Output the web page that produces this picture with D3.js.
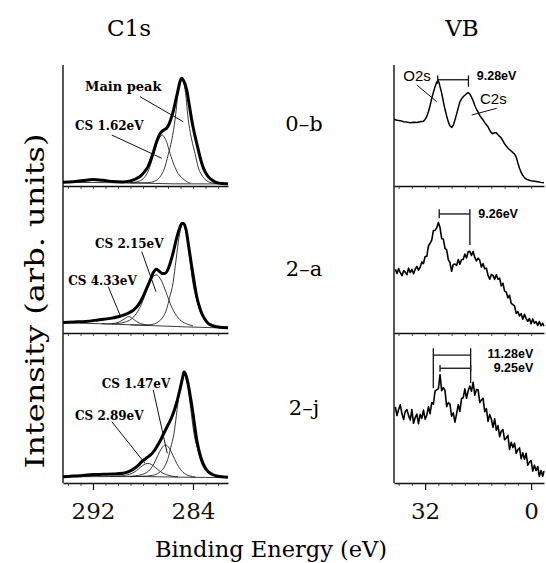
<!DOCTYPE html>
<html>
<head>
<meta charset="utf-8">
<script src="https://cdn.jsdelivr.net/npm/d3@7/dist/d3.min.js"></script>
<style>
  body { margin: 0; background: #fff; }
  svg { display: block; }
</style>
</head>
<body>
<svg id="chart" width="546" height="563"></svg>
<script>
// values are [binding energy (eV), intensity (arb. units, 0-100 of panel height)]
const sampleNames = ["0–b", "2–a", "2–j"];
const c1sTickLabels = [292, 284];
const vbTickLabels = [32, 0];

// ---- C1s, sample 0-b ----
const c1sBg0b = [[294.4, 3.0], [291, 2.8], [288.5, 2.5], [287, 2.1], [285.5, 1.8], [281.2, 1.7]];
const c1sEnv0b = [[294.4, 3.2], [293.6, 3.6], [292.8, 4.5], [292.0, 5.3], [291.2, 4.7], [290.4, 3.7], [289.6, 3.4],
  [289.0, 4.2], [288.6, 5.8], [288.2, 8.2], [287.9, 11.5], [287.6, 16], [287.4, 21], [287.2, 27], [286.9, 37],
  [286.7, 42], [286.5, 45], [286.3, 46.5], [286.1, 48], [285.9, 51.5], [285.7, 57.5], [285.55, 63], [285.4, 70],
  [285.2, 79], [285.05, 86], [284.9, 89], [284.75, 87], [284.5, 79.3], [284.3, 67], [284.1, 54.5], [283.9, 44],
  [283.7, 35.3], [283.5, 26.5], [283.3, 18.8], [283.05, 12], [282.78, 7.7], [282.4, 4.3], [282.1, 2.8],
  [281.6, 2.0], [281.2, 1.8]];
const c1sMain0b = [[289.0, 2.4], [288.0, 2.6], [287.3, 3.2], [286.9, 5], [286.6, 8], [286.3, 14], [285.98, 26],
  [285.7, 38], [285.42, 56], [285.2, 77], [285.05, 86], [284.9, 89], [284.75, 86], [284.6, 77], [284.38, 55],
  [284.1, 38], [283.84, 27], [283.6, 16], [283.3, 9], [283.0, 5.2], [282.78, 3.6], [282.3, 2.3], [281.2, 1.8]];
const c1sCs162 = [[289.3, 2.6], [288.8, 2.9], [288.3, 4], [287.9, 7], [287.6, 12], [287.35, 19], [287.1, 28],
  [286.85, 36], [286.6, 41], [286.45, 42], [286.3, 40.5], [286.1, 36], [285.84, 27], [285.5, 17], [285.2, 10.5],
  [284.85, 6.5], [284.5, 3.6], [284.2, 2.3]];

// ---- C1s, sample 2-a ----
const c1sBg2a = [[294.4, 7.2], [290, 6.0], [287, 5.0], [284.5, 4.2], [282.5, 3.7], [281.2, 3.6]];
const c1sEnv2a = [[294.4, 7.2], [293.5, 7.6], [292.6, 8.0], [291.6, 9.0], [290.6, 10.1], [289.9, 11.4], [289.3, 13.2],
  [288.8, 15.5], [288.4, 19], [288.0, 25], [287.7, 31], [287.4, 37], [287.15, 42], [286.95, 44], [286.75, 43],
  [286.5, 41.2], [286.25, 41], [286.05, 43], [285.85, 47.5], [285.6, 55], [285.35, 64], [285.1, 71.5],
  [284.9, 75.5], [284.75, 75.6], [284.55, 71], [284.35, 60], [284.1, 45.7], [283.9, 35], [283.7, 25],
  [283.5, 18.5], [283.3, 13.6], [283.05, 9.5], [282.8, 6.7], [282.4, 4.9], [282.1, 4.3], [281.6, 3.8], [281.2, 3.7]];
const c1sMain2a = [[289.0, 5.6], [288.0, 5.4], [287.3, 5.9], [286.8, 7.6], [286.4, 11.1], [286.1, 16.8], [285.87, 24.5],
  [285.6, 34.4], [285.35, 50.8], [285.1, 67], [284.8, 75.6], [284.5, 66.8], [284.25, 50.5], [284.0, 34.1],
  [283.73, 24.2], [283.5, 16.4], [283.2, 10.7], [282.8, 7.1], [282.3, 5.4], [282.0, 4.0]];
const c1sCs215 = [[290.5, 6.2], [289.95, 6.6], [289.45, 7.5], [288.95, 9.5], [288.55, 13.2], [288.15, 19.4],
  [287.75, 28.4], [287.35, 36.7], [286.95, 40.1], [286.55, 36.5], [286.15, 28], [285.75, 18.7], [285.35, 12.3],
  [284.95, 8.4], [284.45, 6.1], [284.0, 4.9]];
const c1sCs433 = [[291.3, 6.4], [290.8, 6.3], [290.3, 6.6], [289.9, 7.7], [289.5, 9.7], [289.13, 11.3], [288.75, 9.4],
  [288.4, 7.3], [288.0, 6.0], [287.6, 5.4]];

// ---- C1s, sample 2-j ----
const c1sBg2j = [[294.4, 4.2], [290, 4.3], [288, 4.3], [286.5, 4.1], [285, 3.9], [283, 3.7], [281.2, 3.7]];
const c1sEnv2j = [[294.4, 4.2], [293.6, 4.6], [292.8, 5.0], [292.0, 5.6], [291.2, 5.8], [290.4, 6.0], [289.6, 6.5],
  [289.1, 7.8], [288.8, 9.1], [288.4, 11.6], [288.1, 14.2], [287.7, 16.8], [287.4, 18.7], [287.1, 21.5],
  [286.9, 24.2], [286.6, 28.5], [286.4, 32], [286.1, 37], [285.8, 42], [285.6, 46], [285.4, 51], [285.2, 57],
  [285.0, 64], [284.85, 69.5], [284.72, 74], [284.55, 71.5], [284.4, 66.4], [284.2, 57], [284.0, 46.4],
  [283.85, 37], [283.7, 28.7], [283.5, 21], [283.3, 15.3], [283.05, 10.5], [282.8, 7.6], [282.4, 5.5],
  [282.1, 4.7], [281.7, 4.1], [281.2, 3.8]];
const c1sMain2j = [[289.0, 4.3], [288.0, 4.5], [287.22, 5.1], [286.72, 6.9], [286.32, 10.3], [286.02, 15.8],
  [285.79, 23.4], [285.52, 33.1], [285.27, 49], [285.02, 64.8], [284.72, 73], [284.42, 64.6], [284.17, 48.8],
  [283.92, 32.9], [283.65, 23.2], [283.42, 15.6], [283.12, 10.1], [282.72, 6.7], [282.22, 4.9], [281.2, 3.8]];
const c1sCs147 = [[289.2, 4.4], [288.6, 4.8], [288.1, 5.6], [287.7, 7.0], [287.4, 9.3], [287.1, 13.3], [286.8, 18.6],
  [286.5, 23.3], [286.19, 25.4], [285.9, 23.2], [285.6, 18.3], [285.3, 13.0], [285.0, 9.0], [284.7, 6.5],
  [284.3, 4.8], [283.8, 4.0]];
const c1sCs289 = [[290.6, 4.4], [290.0, 4.6], [289.5, 5.0], [289.1, 5.8], [288.8, 6.8], [288.5, 8.4], [288.2, 10.5],
  [287.9, 12.3], [287.61, 13.1], [287.3, 12.2], [287.0, 10.3], [286.7, 8.2], [286.4, 6.5], [286.1, 5.5],
  [285.7, 4.6], [285.2, 4.1]];

// ---- valence band spectra ----
const vb0b = [[41.4, 55.2], [40.5, 54.3], [39.5, 54.0], [38.5, 53.1], [37.5, 52.8], [36.5, 52.2], [35.5, 52.7],
  [34.5, 52.4], [33.5, 53.1], [32.5, 53.6], [32.0, 55.0], [31.5, 57.5], [31.0, 61.4], [30.5, 66.5], [30.0, 72.5],
  [29.5, 77.4], [29.0, 82.1], [28.6, 85.2], [28.2, 87.2], [27.8, 85.6], [27.5, 82.1], [27.0, 76.8], [26.5, 69.7],
  [26.0, 63.4], [25.5, 57.9], [25.0, 53.0], [24.5, 49.6], [24.0, 48.4], [23.5, 50.1], [23.0, 54.5], [22.5, 59.4],
  [22.0, 64.6], [21.5, 69.5], [21.0, 72.0], [20.5, 73.8], [20.0, 75.0], [19.5, 76.3], [19.0, 77.2], [18.5, 76.0],
  [18.0, 73.5], [17.5, 70.4], [17.0, 66.5], [16.5, 63.4], [16.0, 61.0], [15.5, 58.3], [15.0, 56.4], [14.5, 54.6],
  [14.0, 52.4], [13.5, 50.6], [13.0, 48.9], [12.5, 46.2], [12.0, 44.0], [11.5, 43.2], [11.0, 44.1], [10.5, 44.0],
  [10.0, 42.3], [9.5, 41.0], [9.0, 39.6], [8.5, 37.2], [8.0, 34.9], [7.5, 33.0], [7.0, 31.4], [6.5, 30.0],
  [6.0, 28.9], [5.5, 27.6], [5.0, 26.4], [4.5, 24.0], [4.0, 19.1], [3.5, 14.6], [3.0, 11.2], [2.5, 8.6],
  [2.0, 6.9], [1.5, 5.8], [1.0, 5.1], [0.0, 4.4], [-1.0, 4.0], [-2.0, 3.6], [-3.0, 3.0], [-3.9, 2.6]];
const vb2a = [[41.0, 43.9], [40.5, 41.1], [40.0, 44.5], [39.5, 41.6], [39.0, 39.5], [38.5, 43.0], [38.0, 42.0],
  [37.5, 40.2], [37.0, 44.7], [36.5, 41.7], [36.0, 43.9], [35.5, 40.8], [35.0, 44.0], [34.5, 45.9], [34.0, 43.4],
  [33.5, 45.4], [33.0, 48.9], [32.5, 47.9], [32.0, 52.8], [31.5, 52.8], [31.0, 60.0], [30.5, 61.9], [30.0, 64.0],
  [29.5, 70.7], [29.0, 70.8], [28.5, 72.6], [28.0, 76.2], [27.5, 72.7], [27.0, 65.0], [26.5, 64.8], [26.0, 58.3],
  [25.5, 57.4], [25.0, 50.6], [24.5, 48.5], [24.0, 42.6], [23.5, 47.3], [23.0, 47.6], [22.5, 46.6], [22.0, 50.6],
  [21.5, 47.5], [21.0, 50.7], [20.5, 50.7], [20.0, 54.5], [19.5, 51.7], [19.0, 56.0], [18.5, 56.3], [18.0, 53.5],
  [17.5, 56.2], [17.0, 52.1], [16.5, 49.7], [16.0, 51.6], [15.5, 50.1], [15.0, 45.5], [14.5, 47.8], [14.0, 44.3],
  [13.5, 44.7], [13.0, 39.7], [12.5, 37.1], [12.0, 40.4], [11.5, 39.7], [11.0, 37.0], [10.5, 40.2], [10.0, 37.1],
  [9.5, 37.8], [9.0, 32.4], [8.5, 34.3], [8.0, 28.9], [7.5, 28.3], [7.0, 24.2], [6.5, 26.0], [6.0, 20.4],
  [5.5, 19.6], [5.0, 18.7], [4.5, 13.5], [4.0, 14.8], [3.5, 11.8], [3.0, 13.3], [2.5, 9.5], [2.0, 12.9],
  [1.5, 9.9], [1.0, 8.1], [0.5, 10.0], [0.0, 6.3], [-0.5, 9.7], [-1.0, 6.7], [-1.5, 7.8], [-2.0, 5.3],
  [-2.5, 7.9], [-3.0, 5.0], [-3.5, 6.7], [-3.9, 4.8]];
const vb2j = [[41.0, 50.8], [40.5, 45.0], [40.0, 49.0], [39.5, 52.1], [39.0, 46.1], [38.5, 42.4], [38.0, 47.7],
  [37.5, 49.0], [37.0, 44.9], [36.5, 42.0], [36.0, 48.9], [35.5, 39.8], [35.0, 43.6], [34.5, 46.0], [34.0, 39.6],
  [33.5, 45.8], [33.0, 43.1], [32.5, 48.6], [32.0, 42.6], [31.5, 45.2], [31.0, 50.8], [30.5, 46.2], [30.0, 53.7],
  [29.5, 52.5], [29.0, 61.4], [28.5, 62.1], [28.0, 62.8], [27.5, 72.2], [27.0, 61.5], [26.5, 63.6], [26.0, 61.7],
  [25.5, 50.9], [25.0, 53.6], [24.5, 52.6], [24.0, 44.5], [23.5, 46.7], [23.0, 40.6], [22.5, 46.1], [22.0, 52.3],
  [21.5, 47.7], [21.0, 56.3], [20.5, 56.8], [20.0, 62.8], [19.5, 56.5], [19.0, 61.5], [18.5, 64.7], [18.0, 61.2],
  [17.5, 67.2], [17.0, 58.6], [16.5, 62.4], [16.0, 62.1], [15.5, 53.7], [15.0, 55.4], [14.5, 56.4], [14.0, 47.6],
  [13.5, 49.6], [13.0, 41.1], [12.5, 45.6], [12.0, 42.5], [11.5, 37.1], [11.0, 42.8], [10.5, 35.2], [10.0, 38.3],
  [9.5, 30.9], [9.0, 34.6], [8.5, 35.6], [8.0, 28.8], [7.5, 30.0], [7.0, 31.8], [6.5, 22.4], [6.0, 27.1],
  [5.5, 23.6], [5.0, 26.7], [4.5, 19.7], [4.0, 22.1], [3.5, 23.4], [3.0, 16.2], [2.5, 20.1], [2.0, 15.8],
  [1.5, 19.8], [1.0, 11.9], [0.5, 13.9], [0.0, 15.0], [-0.5, 7.9], [-1.0, 11.9], [-1.5, 8.4], [-2.0, 11.0],
  [-2.5, 4.4], [-3.0, 8.3], [-3.5, 4.5], [-3.9, 8.0]];

// ---- annotations: panel index, text, anchor [eV, intensity] ----
const c1sLabels = [
  { panel: 0, text: "Main peak", at: [292.64, 78.5], from: [288.24, 73.8], to: [284.78, 53.1] },
  { panel: 0, text: "CS 1.62eV", at: [293.44, 46.3], from: [290.5, 42.1], to: [286.5, 22.9] },
  { panel: 1, text: "CS 2.15eV", at: [291.84, 58.6], from: [288.1, 56.1], to: [286.96, 28.5] },
  { panel: 1, text: "CS 4.33eV", at: [293.98, 33.1], from: [290.78, 31.9], to: [289.84, 12.4] },
  { panel: 2, text: "CS 1.47eV", at: [291.3, 63.3], from: [287.18, 62], to: [286.06, 19.8] },
  { panel: 2, text: "CS 2.89eV", at: [293.44, 42], from: [290.5, 40.9], to: [287.84, 13.1] }
];
const vbPeakLabels = [
  { panel: 0, text: "O2s", at: [38.6, 86.8], from: [34.54, 83.5], to: [28.5, 69.7] },
  { panel: 0, text: "C2s", at: [15.43, 67.4], from: [10.4, 64.2], to: [17.93, 58.7] }
];
// brackets: left/right peak energy, bar height, end of the left and right drops
const vbBrackets = [
  { panel: 0, left: 28.2, right: 18.92, bar: 87.8, leftEnd: 84.5, rightEnd: 82.0, top: 91.3, text: "9.28eV", textAt: [16.4, 87.8], anchor: "start" },
  { panel: 1, left: 27.75, right: 18.49, bar: 82.1, leftEnd: 79.1, rightEnd: 60.7, top: 85.3, text: "9.26eV", textAt: [15.94, 79.3], anchor: "start" },
  { panel: 2, left: 29.53, right: 18.25, bar: 85.3, leftEnd: 63.1, rightEnd: 66.5, top: 89.8, text: "11.28eV", textAt: [-0.67, 83.3], anchor: "end" },
  { panel: 2, left: 27.5, right: 18.25, bar: 76.5, leftEnd: 74.2, rightEnd: 74.2, top: 78.7, text: "9.25eV", textAt: [-0.67, 74.3], anchor: "end" }
];

const c1sPanels = [
  { bg: c1sBg0b, env: c1sEnv0b, comps: [c1sMain0b, c1sCs162] },
  { bg: c1sBg2a, env: c1sEnv2a, comps: [c1sMain2a, c1sCs215, c1sCs433] },
  { bg: c1sBg2j, env: c1sEnv2j, comps: [c1sMain2j, c1sCs147, c1sCs289] }
];
const vbSpectra = [vb0b, vb2a, vb2j];

// ---- layout ----
const svg = d3.select("#chart");
const panels = [{ top: 65, bottom: 186 }, { top: 188, bottom: 333 }, { top: 333, bottom: 483 }];
const yScales = panels.map(p => d3.scaleLinear().domain([0, 100]).range([p.bottom, p.top]));
const c1sX = d3.scaleLinear().domain([294.4, 281.2]).range([63, 228]);
const vbX = d3.scaleLinear().domain([41.4, -3.9]).range([394, 544]);
const serif = "'DejaVu Serif', serif";
const sans = "'Liberation Sans', Arial, sans-serif";

function sorted(points, x) {
    return points.slice().sort((a, b) => x(a[0]) - x(b[0]));
}

function drawFrame(x, minorTicks) {
    const left = x.range()[0];
    svg.append("line")
        .attr("x1", left).attr("x2", left)
        .attr("y1", panels[0].top).attr("y2", panels[2].bottom)
        .attr("stroke", "#111").attr("stroke-width", 1.4);

    panels.forEach(p => {
        svg.append("g")
            .attr("transform", `translate(0, ${p.bottom})`)
            .call(d3.axisBottom(x).tickValues(minorTicks).tickSize(3).tickSizeOuter(0).tickFormat(""))
            .call(g => g.select(".domain").attr("stroke", "#111").attr("stroke-width", 1.6))
            .call(g => g.selectAll(".tick line").attr("stroke", "#222").attr("stroke-width", 0.8));
    });
}

function drawTickLabels(x, values) {
    svg.append("g")
        .attr("transform", `translate(0, ${panels[2].bottom})`)
        .call(d3.axisBottom(x).tickValues(values).tickSize(7).tickSizeOuter(0).tickPadding(13))
        .call(g => g.select(".domain").remove())
        .call(g => g.selectAll(".tick line").attr("stroke", "#111").attr("stroke-width", 1.2))
        .call(g => g.selectAll(".tick text").attr("fill", "#111")
            .attr("font-family", serif).attr("font-size", 23));
}

function drawC1s() {
    drawFrame(c1sX, d3.range(282, 295, 1));
    drawTickLabels(c1sX, c1sTickLabels);

    c1sPanels.forEach((d, i) => {
        const y = yScales[i];
        const line = d3.line().x(p => c1sX(p[0])).y(p => y(p[1])).curve(d3.curveMonotoneX);
        svg.append("path").attr("d", line(sorted(d.bg, c1sX)))
            .attr("fill", "none").attr("stroke", "#222").attr("stroke-width", 0.9);
        d.comps.forEach(c => {
            svg.append("path").attr("d", line(sorted(c, c1sX)))
                .attr("fill", "none").attr("stroke", "#222").attr("stroke-width", 0.9);
        });
        svg.append("path").attr("d", line(sorted(d.env, c1sX)))
            .attr("fill", "none").attr("stroke", "#000").attr("stroke-width", 3)
            .attr("stroke-linejoin", "round");
    });

    c1sLabels.forEach(l => {
        const y = yScales[l.panel];
        svg.append("text")
            .attr("x", c1sX(l.at[0])).attr("y", y(l.at[1]))
            .attr("font-family", serif).attr("font-weight", "bold")
            .attr("font-size", l.text === "Main peak" ? 13 : 12)
            .attr("fill", "#000")
            .text(l.text);
        svg.append("line")
            .attr("x1", c1sX(l.from[0])).attr("y1", y(l.from[1]))
            .attr("x2", c1sX(l.to[0])).attr("y2", y(l.to[1]))
            .attr("stroke", "#111").attr("stroke-width", 1);
    });
}

function drawVB() {
    drawFrame(vbX, d3.range(0, 41, 4));
    drawTickLabels(vbX, vbTickLabels);

    vbSpectra.forEach((s, i) => {
        const y = yScales[i];
        const line = d3.line().x(p => vbX(p[0])).y(p => y(p[1]));
        svg.append("path").attr("d", line(s))
            .attr("fill", "none").attr("stroke", "#000")
            .attr("stroke-width", i === 0 ? 1.5 : 1.6).attr("stroke-linejoin", "round");
    });

    vbPeakLabels.forEach(l => {
        const y = yScales[l.panel];
        svg.append("text")
            .attr("x", vbX(l.at[0])).attr("y", y(l.at[1]))
            .attr("font-family", sans).attr("font-size", 15).attr("fill", "#000")
            .text(l.text);
        svg.append("line")
            .attr("x1", vbX(l.from[0])).attr("y1", y(l.from[1]))
            .attr("x2", vbX(l.to[0])).attr("y2", y(l.to[1]))
            .attr("stroke", "#111").attr("stroke-width", 1);
    });

    vbBrackets.forEach(b => {
        const y = yScales[b.panel];
        const g = svg.append("g").attr("stroke", "#111").attr("stroke-width", 1.3);
        g.append("line").attr("x1", vbX(b.left)).attr("x2", vbX(b.right)).attr("y1", y(b.bar)).attr("y2", y(b.bar));
        g.append("line").attr("x1", vbX(b.left)).attr("x2", vbX(b.left)).attr("y1", y(b.top)).attr("y2", y(b.leftEnd));
        g.append("line").attr("x1", vbX(b.right)).attr("x2", vbX(b.right)).attr("y1", y(b.top)).attr("y2", y(b.rightEnd));
        svg.append("text")
            .attr("x", vbX(b.textAt[0])).attr("y", y(b.textAt[1]))
            .attr("text-anchor", b.anchor)
            .attr("font-family", sans).attr("font-weight", "bold").attr("font-size", 12.5)
            .attr("fill", "#000")
            .text(b.text);
    });
}

function drawTitles() {
    svg.append("text").attr("x", 129).attr("y", 36).attr("text-anchor", "middle")
        .attr("font-family", serif).attr("font-size", 23).text("C1s");
    svg.append("text").attr("x", 462).attr("y", 36).attr("text-anchor", "middle")
        .attr("font-family", serif).attr("font-size", 23).text("VB");

    const nameY = [131, 276, 415];
    sampleNames.forEach((n, i) => {
        svg.append("text").attr("x", 304).attr("y", nameY[i]).attr("text-anchor", "middle")
            .attr("font-family", serif).attr("font-size", 21).text(n);
    });

    svg.append("text")
        .attr("transform", "translate(44, 301) rotate(-90)")
        .attr("text-anchor", "middle")
        .attr("font-family", serif).attr("font-size", 26)
        .attr("textLength", 335).attr("lengthAdjust", "spacingAndGlyphs")
        .text("Intensity (arb. units)");

    svg.append("text").attr("x", 271).attr("y", 557).attr("text-anchor", "middle")
        .attr("font-family", serif).attr("font-size", 22.5).text("Binding Energy (eV)");
}

drawC1s();
drawVB();
drawTitles();
</script>
</body>
</html>
